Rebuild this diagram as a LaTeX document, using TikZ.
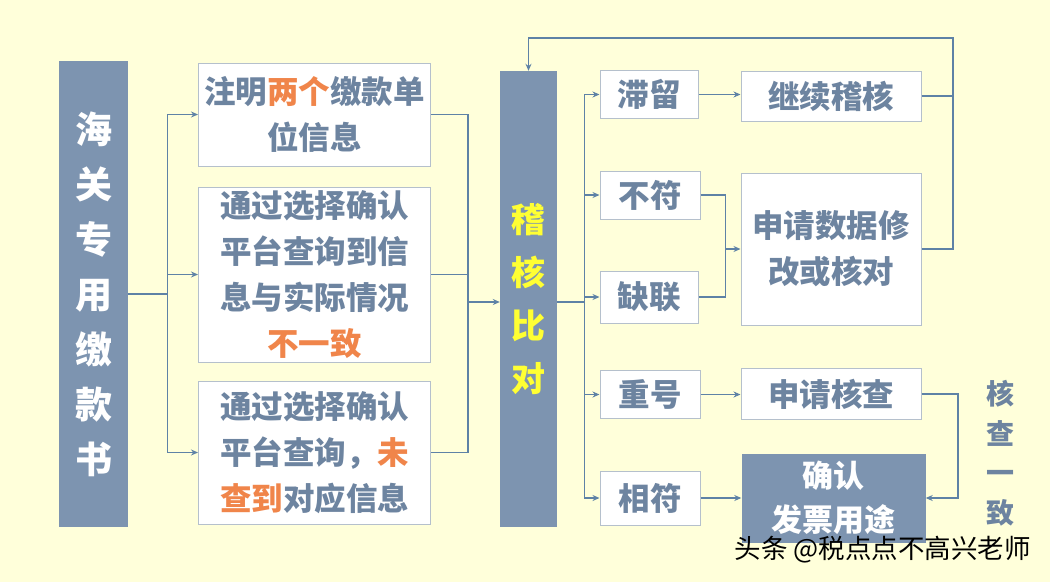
\documentclass[tikz,border=0pt]{standalone}
\usepackage{fontspec}
\usetikzlibrary{arrows.meta}
\newfontfamily\cjk{Noto Sans CJK SC}
\definecolor{bgyellow}{HTML}{FFFFDA}
\definecolor{slate}{HTML}{7D94B0}
\definecolor{txtblue}{HTML}{6D84A0}
\definecolor{accent}{HTML}{F0854A}
\definecolor{hilite}{HTML}{FFFF33}
\definecolor{boxline}{HTML}{B5C0CC}
\definecolor{linkblue}{HTML}{5E82A6}
\tikzset{
  textbox/.style={draw=boxline, line width=1pt, fill=white, inner sep=0pt, align=center,
    text=txtblue, font=\cjk\bfseries\fontsize{31.5}{46}\selectfont},
  darkbox/.style={fill=slate, inner sep=0pt, align=center, font=\cjk\bfseries},
  link/.style={draw=linkblue, line width=1.2pt},
  arrow/.style={link, -{Stealth[length=7pt,width=6pt]}}
}
\begin{document}
\begin{tikzpicture}[x=1pt,y=-1pt]

    \fill[bgyellow] (0,0) rectangle (1050,582);

    % left column
    \node[darkbox, text=white, minimum width=69pt, minimum height=466pt,
          font=\cjk\bfseries\fontsize{37}{55}\selectfont] (customs) at (93.5,294)
          {海\\关\\专\\用\\缴\\款\\书};

    \node[textbox, minimum width=232pt, minimum height=103pt] (note) at (314.5,114.5)
          {注明{\color{accent}两个}缴款单\\位信息};
    \node[textbox, minimum width=232pt, minimum height=175pt] (diff) at (314.5,274.5)
          {通过选择确认\\平台查询到信\\息与实际情况\\{\color{accent}不一致}};
    \node[textbox, minimum width=232pt, minimum height=143pt] (miss) at (314.5,452.5)
          {通过选择确认\\平台查询，{\color{accent}未}\\{\color{accent}查到}对应信息};

    \node[darkbox, text=hilite, minimum width=57pt, minimum height=456pt,
          font=\cjk\bfseries\fontsize{34}{53}\selectfont] (check) at (528.5,299)
          {稽\\核\\比\\对};

    % right column
    \node[textbox, minimum width=98pt, minimum height=48pt] (stay) at (649,94.5) {滞留};
    \node[textbox, minimum width=100pt, minimum height=48pt] (nomatch) at (650,195) {不符};
    \node[textbox, minimum width=98pt, minimum height=52pt] (lack) at (649,297) {缺联};
    \node[textbox, minimum width=100pt, minimum height=48pt] (dup) at (650,394.5) {重号};
    \node[textbox, minimum width=100pt, minimum height=54pt] (match) at (650,498) {相符};

    \node[textbox, minimum width=180pt, minimum height=50pt] (cont) at (831,96) {继续稽核};
    \node[textbox, minimum width=180pt, minimum height=152pt] (modify) at (831,249)
          {申请数据修\\改或核对};
    \node[textbox, minimum width=180pt, minimum height=51pt] (apply) at (831,394) {申请核查};
    \node[darkbox, text=white, minimum width=184pt, minimum height=89pt,
          font=\cjk\bfseries\fontsize{31}{44}\selectfont] (confirm) at (833.5,498)
          {确认\\发票用途};

    \node[text=txtblue, align=center, inner sep=0pt,
          font=\cjk\bfseries\fontsize{28}{39.5}\selectfont] (same) at (1000,453)
          {核\\查\\一\\致};

    \coordinate (jM) at (468,302);
    \coordinate (jR) at (725.5,249);
    \coordinate (top) at (953,38);

    \foreach \t in {note,diff,miss}
        \draw[arrow] (customs.east) -- ++(39,0) |- (\t.west);
    \foreach \s in {note,diff,miss}
        \draw[link] (\s.east) -| (jM);
    \draw[arrow] (jM) -- (check.west |- jM);

    \foreach \t in {stay,nomatch,lack,dup,match}
        \draw[arrow] (check.east |- jM) -- ++(27.5,0) |- (\t.west);

    \draw[arrow] (stay.east) -- (cont.west |- stay.east);
    \draw[link] (nomatch.east) -| (jR);
    \draw[link] (lack.east) -| (jR);
    \draw[arrow] (jR) -- (modify.west);
    \draw[arrow] (cont.east) -| (top) -| (check.north);
    \draw[link] (modify.east) -| (top);
    \draw[arrow] (dup.east) -- (apply.west |- dup.east);
    \draw[arrow] (apply.east) -- ++(36.5,0) |- (confirm.east);
    \draw[arrow] (match.east) -- (confirm.west |- match.east);

    \node[font=\cjk\fontsize{26.5}{30}\selectfont, inner sep=0pt] (mark) at (882.5,550)
          {头条 @税点点不高兴老师};

\end{tikzpicture}
\end{document}
